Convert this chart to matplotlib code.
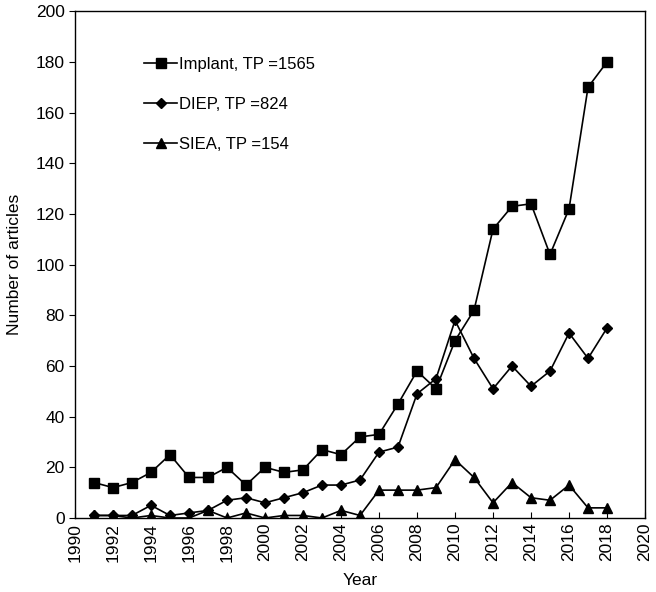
import matplotlib
matplotlib.use('Agg')
import matplotlib.pyplot as plt

years = list(range(1991, 2019))
implant = [14, 12, 14, 18, 25, 16, 16, 20, 13, 20, 18, 19, 27, 25, 32,
           33, 45, 58, 51, 70, 82, 114, 123, 124, 104, 122, 170, 180]
diep = [1, 1, 1, 5, 1, 2, 3, 7, 8, 6, 8, 10, 13, 13, 15,
        26, 28, 49, 55, 78, 63, 51, 60, 52, 58, 73, 63, 75]
siea = [1, 1, 0, 1, 0, 0, 3, 0, 2, 0, 1, 1, 0, 3, 1,
        11, 11, 11, 12, 23, 16, 6, 14, 8, 7, 13, 4, 4]
labels = ['Implant, TP =1565', 'DIEP, TP =824', 'SIEA, TP =154']

plt.rcParams.update({'font.family': ['Liberation Sans', 'DejaVu Sans'], 'font.size': 12.5})

fig = plt.figure(figsize=(6.56, 5.92), dpi=100)
ax = fig.add_axes([0.1143, 0.125, 0.869, 0.856])

ax.plot(years, implant, color='black', lw=1.2, marker='s', ms=7.5, label=labels[0])
ax.plot(years, diep, color='black', lw=1.2, marker='D', ms=5.5, label=labels[1])
ax.plot(years, siea, color='black', lw=1.2, marker='^', ms=7.5, label=labels[2])

ax.set_xlim(1990, 2020)
ax.set_ylim(0, 200)
ax.set_xticks(range(1990, 2021, 2))
ax.set_yticks(range(0, 201, 20))
ax.tick_params(axis='x', direction='in', length=4, labelrotation=90, labelsize=12.5)
ax.tick_params(axis='y', direction='out', length=4, labelsize=12.5)
ax.set_xlabel('Year', fontsize=12.5, labelpad=8)
ax.set_ylabel('Number of articles', fontsize=12.5, labelpad=10)
for s in ax.spines.values():
    s.set_linewidth(1.0)

ax.legend(loc='upper left', bbox_to_anchor=(0.095, 0.94), frameon=False,
          fontsize=12, labelspacing=1.5, handlelength=2.0, handletextpad=0.1)

fig.savefig('out.png', dpi=100)
